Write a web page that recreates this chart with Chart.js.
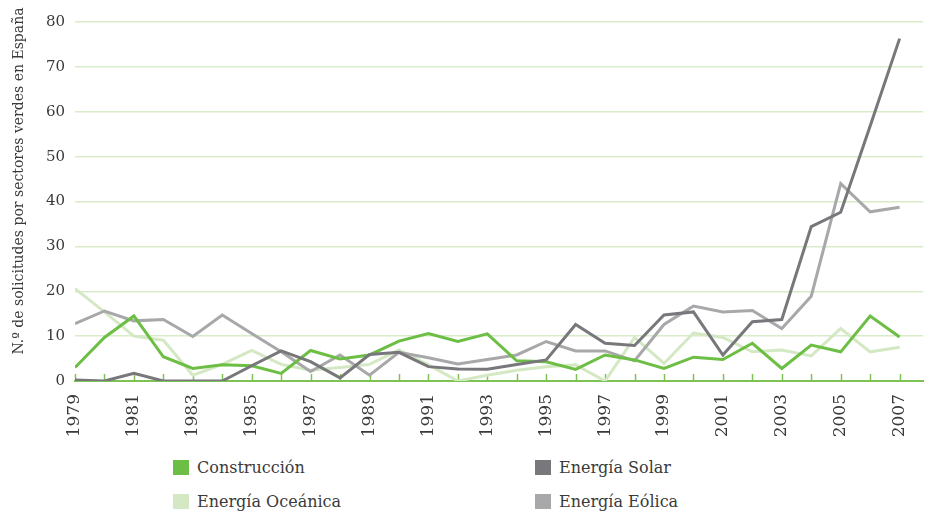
<!DOCTYPE html>
<html lang="es">
<head>
<meta charset="utf-8">
<script src="https://cdn.jsdelivr.net/npm/chart.js@4"></script>
<style>
  body { margin: 0; background: #fff; }
  #wrap { position: relative; width: 925px; height: 512px; }
  #grafico { position: absolute; left: 0; top: 0; }
  .leyenda { position: absolute; font: 16px "DejaVu Serif", serif; color: #3a3a3a; white-space: nowrap; }
  .leyenda span { display: inline-block; width: 16px; height: 15px; vertical-align: -2px; margin-right: 8px; }
</style>
</head>
<body>
<div id="wrap">
  <canvas id="grafico" width="925" height="440"></canvas>
  <div id="leyenda"></div>
</div>
<script>
const anios = [1979, 1980, 1981, 1982, 1983, 1984, 1985, 1986, 1987, 1988, 1989, 1990, 1991, 1992, 1993,
  1994, 1995, 1996, 1997, 1998, 1999, 2000, 2001, 2002, 2003, 2004, 2005, 2006, 2007];

const construccion = [3.0, 9.7, 14.5, 5.4, 2.8, 3.6, 3.4, 1.7, 6.8, 4.9, 5.8, 8.9, 10.6, 8.8, 10.5,
  4.5, 4.3, 2.6, 5.8, 4.7, 2.8, 5.3, 4.8, 8.4, 2.8, 8.0, 6.5, 14.5, 9.8];
const solar = [0.2, 0, 1.7, 0, 0, 0, 3.4, 6.7, 4.3, 0.7, 5.9, 6.4, 3.2, 2.7, 2.6,
  3.7, 4.7, 12.6, 8.4, 7.9, 14.7, 15.4, 5.8, 13.2, 13.7, 34.4, 37.6, 56.8, 76.3];
const oceanica = [20.6, 15.4, 10.0, 9.1, 1.3, 3.7, 6.8, 3.7, 2.4, 3.0, 3.7, 6.9, 3.6, 0, 1.3,
  2.4, 3.2, 3.6, 0, 9.7, 3.9, 10.7, 9.7, 6.5, 6.9, 5.6, 11.7, 6.5, 7.5];
const eolica = [12.8, 15.6, 13.4, 13.7, 9.9, 14.7, 10.6, 6.5, 2.1, 5.8, 1.3, 6.4, 5.2, 3.8, 4.8,
  5.8, 8.8, 6.7, 6.7, 4.5, 12.6, 16.7, 15.4, 15.7, 11.7, 18.9, 44.0, 37.7, 38.7];

const yTicks = [0, 10, 20, 30, 40, 50, 60, 70, 80];
const tituloY = 'N.º de solicitudes por sectores verdes en España';

const serie = vals => vals.map((v, i) => ({ x: anios[i], y: v }));

const series = [
  { label: 'Construcción', data: construccion, color: '#6cbe45', pos: [173, 461] },
  { label: 'Energía Solar', data: solar, color: '#78787c', pos: [535, 461] },
  { label: 'Energía Oceánica', data: oceanica, color: '#d3e8c3', pos: [173, 495] },
  { label: 'Energía Eólica', data: eolica, color: '#a8a8ab', pos: [535, 495] }
];

// marcas de los años hacia arriba, sobre el eje
const marcasAnios = {
  id: 'marcasAnios',
  beforeDatasetsDraw(chart) {
    const { ctx, scales: { x }, chartArea } = chart;
    ctx.save();
    ctx.strokeStyle = '#7cc353';
    ctx.lineWidth = 1.5;
    anios.forEach(a => {
      const px = Math.round(x.getPixelForValue(a)) + 0.5;
      ctx.beginPath();
      ctx.moveTo(px, chartArea.bottom);
      ctx.lineTo(px, chartArea.bottom - 7);
      ctx.stroke();
    });
    ctx.restore();
  },
  afterDraw(chart) {
    const { ctx } = chart;
    ctx.save();
    ctx.translate(19, 181);
    ctx.rotate(-Math.PI / 2);
    ctx.font = '14px "DejaVu Serif", serif';
    ctx.fillStyle = '#3a3a3a';
    ctx.textAlign = 'center';
    ctx.textBaseline = 'middle';
    ctx.fillText(tituloY, 0, 0);
    ctx.restore();
  }
};

// Solar encima, Oceánica debajo
const ordenDibujo = [2, 3, 0, 1];

new Chart(document.getElementById('grafico'), {
  type: 'line',
  data: {
    datasets: series.map((s, i) => ({
      label: s.label,
      data: serie(s.data),
      borderColor: s.color,
      backgroundColor: s.color,
      borderWidth: 3,
      pointRadius: 0,
      tension: 0,
      order: 3 - ordenDibujo.indexOf(i)
    }))
  },
  options: {
    responsive: false,
    animation: false,
    layout: { padding: { top: 22, right: 0, bottom: 0, left: 0 } },
    plugins: {
      legend: { display: false },
      tooltip: { enabled: false }
    },
    scales: {
      x: {
        type: 'linear',
        min: 1979,
        max: 2007.8,
        afterBuildTicks: s => { s.ticks = anios.map(a => ({ value: a })); },
        afterFit: s => { s.height = 59; },
        grid: { display: false },
        border: { display: true, color: '#7cc353', width: 2 },
        ticks: {
          autoSkip: false,
          minRotation: 90,
          maxRotation: 90,
          padding: 5,
          color: '#3a3a3a',
          font: { family: '"DejaVu Serif", serif', size: 17 },
          callback: v => (v % 2 === 1 ? String(v) : '')
        }
      },
      y: {
        min: 0,
        max: 80,
        afterBuildTicks: s => { s.ticks = yTicks.map(v => ({ value: v })); },
        afterFit: s => { s.width = 75; },
        grid: {
          color: c => (c.tick && c.tick.value === 0 ? 'rgba(0,0,0,0)' : '#d9ecc9'),
          lineWidth: 1.5,
          drawTicks: false
        },
        border: { display: false },
        ticks: {
          padding: 10,
          color: '#3a3a3a',
          font: { family: '"DejaVu Serif", serif', size: 15 }
        }
      }
    }
  },
  plugins: [marcasAnios]
});

const leyenda = document.getElementById('leyenda');
series.forEach(s => {
  const el = document.createElement('div');
  el.className = 'leyenda';
  el.style.left = s.pos[0] + 'px';
  el.style.top = (s.pos[1] - 3) + 'px';
  el.innerHTML = '<span style="background:' + s.color + '"></span>' + s.label;
  leyenda.appendChild(el);
});
</script>
</body>
</html>
